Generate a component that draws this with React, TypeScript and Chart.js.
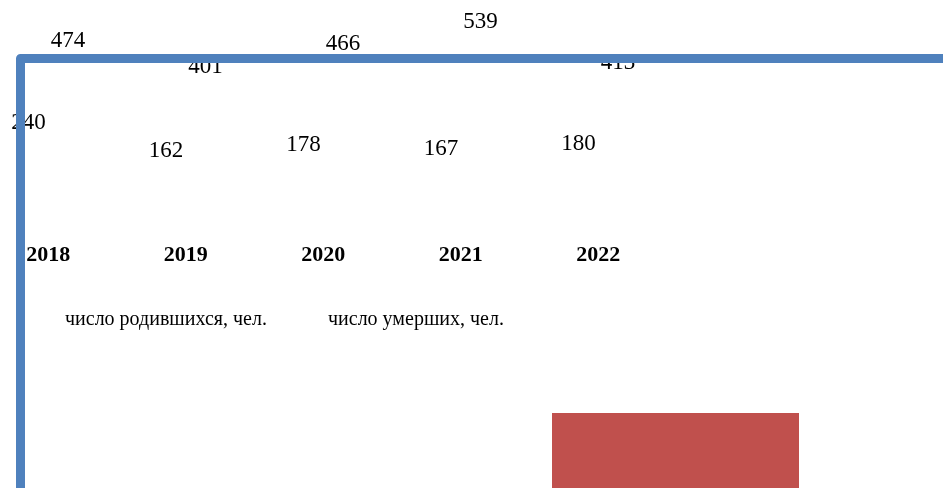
import React, { useEffect, useRef } from "react";
import { Chart, registerables } from "chart.js";

Chart.register(...registerables);

const categories = ["2018", "2019", "2020", "2021", "2022"];
const birthsLabel = "число родившихся, чел.";
const deathsLabel = "число умерших, чел.";
const births = [474, 401, 466, 539, 413];
const deaths = [240, 162, 178, 167, 180];
const legendOrder = [birthsLabel, deathsLabel];

const BLUE = "#4F81BD";
const RED = "#C0504D";
const SERIF = "'Liberation Serif', 'Times New Roman', serif";

const valueLabels = {
  id: "valueLabels",
  afterDatasetsDraw(chart: any) {
    const ctx = chart.ctx;
    const minBase = chart.chartArea.top + 16;
    ctx.save();
    ctx.font = `23px ${SERIF}`;
    ctx.fillStyle = "#000";
    ctx.textAlign = "center";
    ctx.textBaseline = "alphabetic";
    chart.data.datasets.forEach((ds: any, i: number) => {
      const meta = chart.getDatasetMeta(i);
      meta.data.forEach((el: any, j: number) => {
        ctx.fillText(String(ds.data[j]), el.x, Math.max(el.y, minBase));
      });
    });
    ctx.restore();
  },
};

const decor = {
  id: "decor",
  afterDraw(chart: any) {
    const ctx = chart.ctx;
    const W = chart.width;
    const H = chart.height;
    ctx.save();
    // legend texts
    ctx.font = `20px ${SERIF}`;
    ctx.fillStyle = "#000";
    ctx.textAlign = "left";
    ctx.textBaseline = "alphabetic";
    const legendX = [65, 328];
    legendOrder.forEach((lbl, i) => {
      ctx.fillText(lbl, legendX[i], 325);
    });
    // blue frame
    ctx.strokeStyle = BLUE;
    ctx.lineWidth = 9;
    ctx.lineJoin = "round";
    ctx.beginPath();
    ctx.moveTo(20.5, H + 10);
    ctx.lineTo(20.5, 58.5);
    ctx.lineTo(W + 10, 58.5);
    ctx.stroke();
    // red block
    ctx.fillStyle = RED;
    ctx.fillRect(552, 413, 247, H - 413 + 2);
    ctx.restore();
  },
};

export default function App() {
  const ref = useRef<HTMLCanvasElement | null>(null);
  useEffect(() => {
    document.body.style.margin = "0";
    document.body.style.overflow = "hidden";
    const canvas = ref.current!;
    const chart = new Chart(canvas, {
      type: "bar",
      data: {
        labels: categories,
        datasets: [
          { label: deathsLabel, data: deaths, backgroundColor: "rgba(0,0,0,0)", categoryPercentage: 0.573, barPercentage: 1 },
          { label: birthsLabel, data: births, backgroundColor: "rgba(0,0,0,0)", categoryPercentage: 0.573, barPercentage: 1 },
        ],
      },
      options: {
        animation: false,
        responsive: false,
        devicePixelRatio: 1,
        layout: { padding: { left: 48.3, right: 344.7, top: 12, bottom: 191.3 } },
        plugins: { legend: { display: false }, tooltip: { enabled: false } },
        scales: {
          x: {
            offset: false,
            grid: { display: false, drawTicks: false },
            border: { display: false },
            afterFit: (scale: any) => {
              scale.paddingLeft = 0;
              scale.paddingRight = 0;
            },
            ticks: {
              padding: 28.3,
              color: "#000",
              font: { family: SERIF, size: 22, weight: "bold" },
              maxRotation: 0,
              autoSkip: false,
            },
          },
          y: { display: false, min: 0, max: 574 },
        },
      },
      plugins: [valueLabels, decor],
    });
    return () => chart.destroy();
  }, []);
  return (
    <div style={{ width: 943, height: 488 }}>
      <canvas ref={ref} width={943} height={488} style={{ display: "block" }} />
    </div>
  );
}
